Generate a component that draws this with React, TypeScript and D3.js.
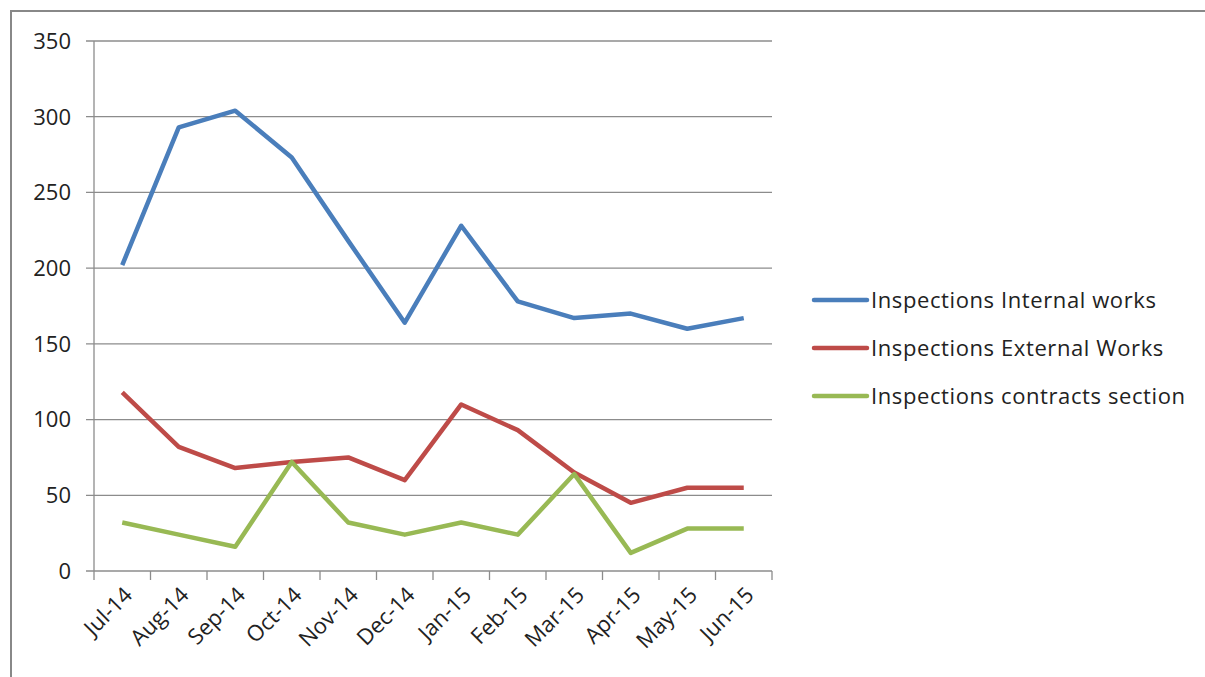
import React from "react";
import * as d3 from "d3";

const months = ["Jul-14","Aug-14","Sep-14","Oct-14","Nov-14","Dec-14","Jan-15","Feb-15","Mar-15","Apr-15","May-15","Jun-15"];
const internalWorks = [202, 293, 304, 273, 218, 164, 228, 178, 167, 170, 160, 167];
const externalWorks = [118, 82, 68, 72, 75, 60, 110, 93, 65, 45, 55, 55];
const contractsSection = [32, 24, 16, 72, 32, 24, 32, 24, 64, 12, 28, 28];
const yTicks = [0, 50, 100, 150, 200, 250, 300, 350];

const seriesNames = ["Inspections Internal works", "Inspections External Works", "Inspections contracts section"];
const seriesColors = ["#4A7EBB", "#BE4B48", "#98B954"];

export default function App() {
  const W = 1205, H = 677;
  const left = 94, right = 772, top = 41, bottom = 571;
  const x = d3.scaleBand<string>().domain(months).range([left, right]);
  const y = d3.scaleLinear().domain([0, 350]).range([bottom, top]);
  const line = d3.line<number>().x((_, i) => (x(months[i]) as number) + x.bandwidth() / 2).y(d => y(d));
  const data = [internalWorks, externalWorks, contractsSection];
  const font = "'Open Sans', 'Noto Sans', sans-serif";
  const tickX = months.map((_, i) => left + i * x.bandwidth()).concat([right]);
  const fs = 22;

  return (
    <svg width={W} height={H} style={{ position: "absolute", left: 0, top: 0, background: "#fff" }} fontFamily={font}>
      <rect x={0} y={0} width={W} height={H} fill="#fff" />
      <rect x={11} y={11} width={1300} height={800} fill="none" stroke="#888" strokeWidth={2} />
      {yTicks.map(t => (
        <g key={t}>
          <line x1={86} x2={right} y1={y(t)} y2={y(t)} stroke="#8c8c8c" strokeWidth={1.3} />
          <text x={71} y={y(t)} dy="0.36em" textAnchor="end" fontSize={fs} fill="#222">{t}</text>
        </g>
      ))}
      <line x1={left} x2={left} y1={top} y2={bottom} stroke="#8c8c8c" strokeWidth={1.3} />
      {tickX.map((tx, i) => (
        <line key={i} x1={tx} x2={tx} y1={bottom} y2={bottom + 9} stroke="#8c8c8c" strokeWidth={1.3} />
      ))}
      {months.map(m => {
        const cx = (x(m) as number) + x.bandwidth() / 2;
        return (
          <text key={m} transform={`translate(${cx + 6},${bottom + 20}) rotate(-45)`} textAnchor="end" dy="0.35em" fontSize={fs} fill="#222">{m}</text>
        );
      })}
      {data.map((d, i) => (
        <path key={i} d={line(d) || ""} fill="none" stroke={seriesColors[i]} strokeWidth={4.5} strokeLinejoin="round" />
      ))}
      {seriesNames.map((n, i) => {
        const ly = 300 + i * 48;
        return (
          <g key={n}>
            <line x1={814} x2={867} y1={ly} y2={ly} stroke={seriesColors[i]} strokeWidth={4.5} strokeLinecap="round" />
            <text x={871} y={ly} dy="0.35em" fontSize={fs} letterSpacing={0.6} fill="#222">{n}</text>
          </g>
        );
      })}
    </svg>
  );
}
